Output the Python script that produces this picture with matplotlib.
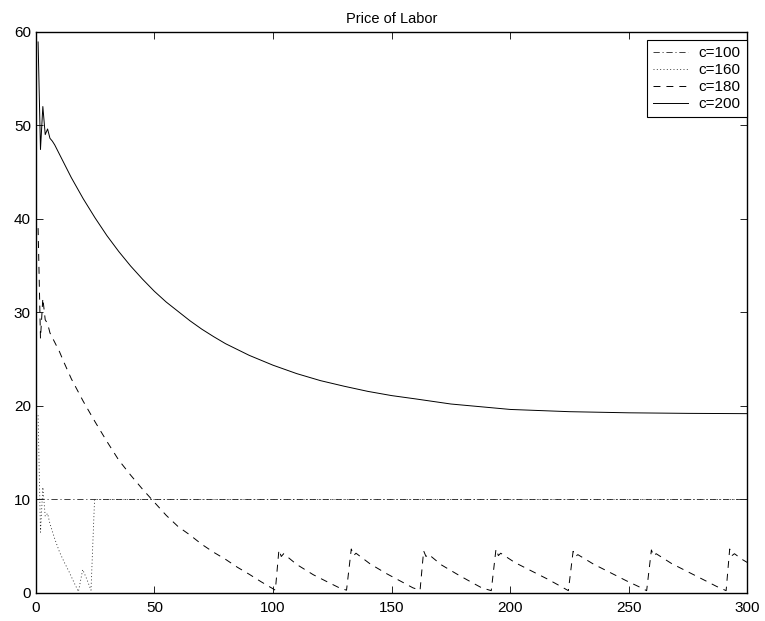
import matplotlib
matplotlib.use('Agg')
import matplotlib.pyplot as plt

plt.rcParams['font.family'] = ['Liberation Sans', 'DejaVu Sans']
plt.rcParams['lines.scale_dashes'] = False

# c=100: flat price
t100 = [1, 300]
p100 = [10, 10]

# c=160: falls to zero then locks at 10
t160 = [1, 2, 3, 4, 5, 6, 8, 10, 12, 14, 16, 18, 19.8, 21.5, 23.3, 24.8, 300]
p160 = [19.0, 6.5, 11.3, 8.2, 8.5, 7.4, 5.8, 4.4, 3.3, 2.3, 1.2, 0.15, 2.5, 1.5, 0.3, 10, 10]

# c=180: decay then sawtooth
t180 = [1, 2, 3, 4, 5, 6, 8, 10, 12, 15, 20, 25, 30, 35, 40, 45, 50, 55, 60, 65, 70,
        75, 80, 85, 90, 95, 100, 101,
        102.5, 103.5, 104.5, 110, 117, 124, 128, 131,
        133, 134, 135, 141, 148, 155, 159, 162,
        163.5, 164.5, 165.5, 171, 178, 184, 188, 192,
        194, 195, 196, 202, 209, 216, 221, 224.5,
        226.5, 227.5, 228.5, 235, 242, 249, 254, 257.5,
        259.5, 260.5, 261.5, 268, 275, 282, 287, 291,
        292.5, 293.5, 294.5, 298, 300]
p180 = [39.0, 27.2, 31.5, 29.2, 28.8, 27.8, 26.8, 25.8, 24.6, 22.9, 20.5, 18.3, 16.2, 14.2, 12.6,
        11.1, 9.7, 8.3, 7.1, 6.2, 5.2, 4.35, 3.6, 2.75, 2.0, 1.2, 0.45, 0.3,
        4.6, 3.9, 4.2, 3.05, 1.95, 1.05, 0.55, 0.3,
        4.7, 4.0, 4.25, 3.1, 2.05, 1.1, 0.55, 0.3,
        4.5, 3.9, 4.15, 3.0, 1.95, 1.1, 0.55, 0.25,
        4.7, 4.0, 4.25, 3.25, 2.35, 1.45, 0.75, 0.25,
        4.45, 3.9, 4.1, 3.1, 2.2, 1.3, 0.7, 0.25,
        4.6, 3.95, 4.2, 3.15, 2.25, 1.35, 0.7, 0.25,
        4.7, 4.0, 4.2, 3.55, 3.25]

# c=200: oscillation then smooth decay
t200 = [1, 2, 3, 4, 5, 6, 7, 8, 10, 15, 20, 25, 30, 35, 40, 45, 50, 55, 60, 65, 70, 75,
        80, 90, 100, 110, 120, 130, 140, 150, 160, 175, 200, 225, 250, 275, 300]
p200 = [58.9, 47.4, 52.0, 49.0, 49.6, 48.6, 48.3, 47.9, 46.9, 44.4, 42.15, 40.1, 38.2, 36.5,
        34.95, 33.55, 32.25, 31.1, 30.1, 29.1, 28.2, 27.4, 26.65, 25.4, 24.35, 23.45, 22.7,
        22.1, 21.55, 21.1, 20.75, 20.2, 19.62, 19.38, 19.26, 19.2, 19.17]

fig = plt.figure(figsize=(7.65, 6.21), dpi=100)
ax = fig.add_axes([0.0467, 0.0451, 0.9304, 0.9039])

ax.plot(t100, p100, color='#222222', lw=0.6, dashes=(4.5, 2, 0.8, 2), label='c=100')
ax.plot(t160, p160, color='#222222', lw=0.6, dashes=(0.7, 1.7), label='c=160')
ax.plot(t180, p180, color='black', lw=0.7, dashes=(5, 4.3), label='c=180')
ax.plot(t200, p200, color='black', lw=0.7, label='c=200')

ax.set_xlim(0, 300)
ax.set_ylim(0, 60)
ax.set_xticks(range(0, 301, 50))
ax.set_yticks(range(0, 61, 10))
ax.tick_params(direction='in', length=5, width=0.6, top=True, right=True, labelsize=11)
ax.tick_params(axis='x', pad=6)
ax.tick_params(axis='y', pad=3.5)
for s in ax.spines.values():
    s.set_linewidth(1.0)

ax.set_title('Price of Labor', fontsize=10.5, pad=6)

leg = ax.legend(loc='upper right', bbox_to_anchor=(0.999, 0.985), fontsize=11, frameon=True,
                fancybox=False, edgecolor='black', framealpha=1, handlelength=2.3,
                labelspacing=0.2, borderpad=0.4, borderaxespad=0.0, handletextpad=0.7)
leg.get_frame().set_linewidth(0.8)

fig.savefig('out.png', dpi=100)
